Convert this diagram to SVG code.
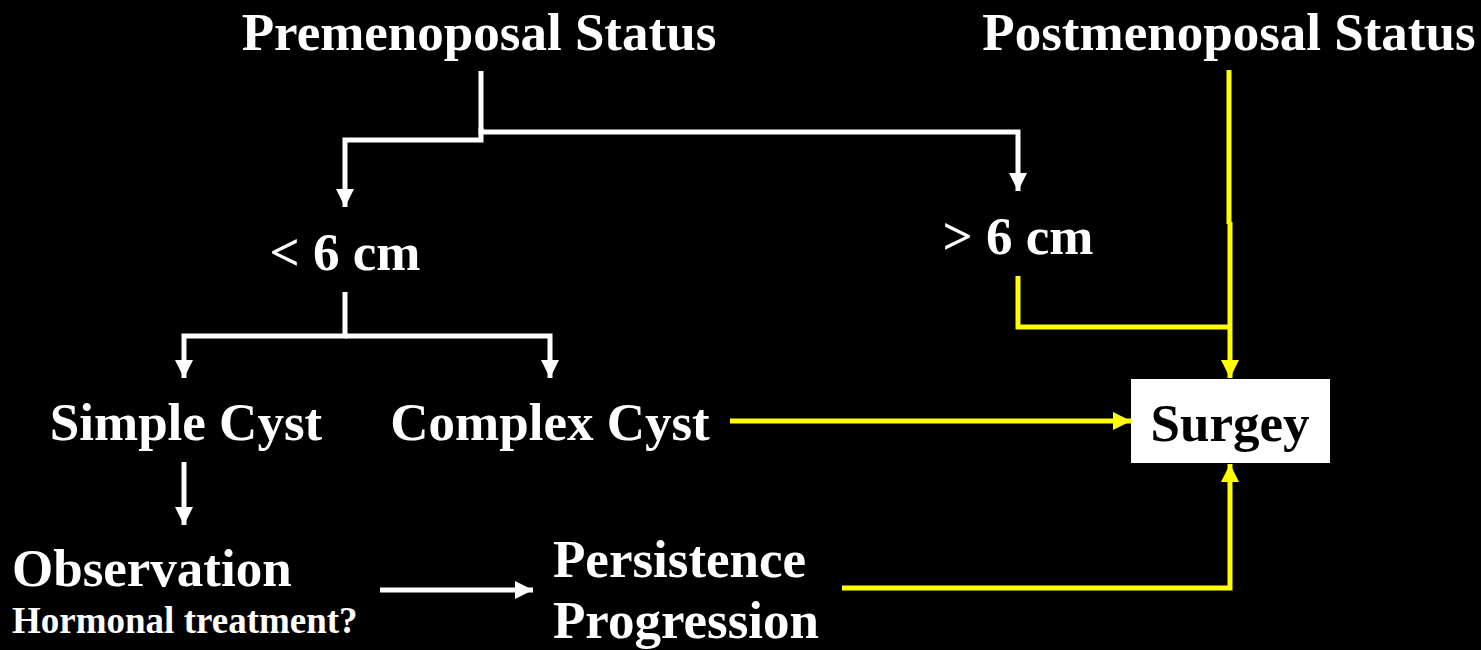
<svg xmlns="http://www.w3.org/2000/svg" width="1481" height="650" viewBox="0 0 1481 650">
<style>
.t{font-family:"Liberation Serif","Times New Roman",serif;font-weight:bold;fill:#fff;text-anchor:middle}
.l{text-anchor:start}
.w{stroke:#fff;stroke-width:5;fill:none}
.y{stroke:#ff0;stroke-width:5;fill:none}
</style>
<defs>
<marker id="aw" markerUnits="userSpaceOnUse" markerWidth="20" markerHeight="20" refX="18" refY="9" orient="auto"><path d="M0,0 L18,9 L0,18 Z" fill="#fff"/></marker>
<marker id="ay" markerUnits="userSpaceOnUse" markerWidth="20" markerHeight="20" refX="18" refY="9" orient="auto"><path d="M0,0 L18,9 L0,18 Z" fill="#ff0"/></marker>
</defs>
<rect width="1481" height="650" fill="#000"/>
<g id="connectors">
<path class="w" d="M481,71 V132 H1018 V191" marker-end="url(#aw)"/>
<path class="w" d="M481,128 V140 H345 V207" marker-end="url(#aw)"/>
<path class="w" d="M345,292 V336 H184 V378" marker-end="url(#aw)"/>
<path class="w" d="M345,336 H550 V378" marker-end="url(#aw)"/>
<path class="w" d="M184,462 V525" marker-end="url(#aw)"/>
<path class="w" d="M380,590 H533" marker-end="url(#aw)"/>
<path class="y" d="M1229,70 V224 M1230,222 V378" marker-end="url(#ay)"/>
<path class="y" d="M1018,276 V327 H1230"/>
<path class="y" d="M730,421 H1131" marker-end="url(#ay)"/>
<path class="y" d="M842,588 H1230 V464" marker-end="url(#ay)"/>
</g>
<g id="premenopausal"><text class="t" x="479" y="50" font-size="53">Premenoposal Status</text></g>
<g id="postmenopausal"><text class="t" x="1229" y="50" font-size="53">Postmenoposal Status</text></g>
<g id="lt6"><text class="t" x="345" y="270" font-size="53">&lt; 6 cm</text></g>
<g id="gt6"><text class="t" x="1018" y="254" font-size="53">&gt; 6 cm</text></g>
<g id="simple"><text class="t" x="186" y="440" font-size="53">Simple Cyst</text></g>
<g id="complex"><text class="t" x="550" y="440" font-size="53">Complex Cyst</text></g>
<g id="surgery"><rect x="1131" y="379" width="199" height="84" fill="#fff"/><text class="t" x="1230" y="441" font-size="53" style="fill:#000">Surgey</text></g>
<g id="observation"><text class="t l" x="12" y="586" font-size="53">Observation</text><text class="t l" x="12" y="633" font-size="37">Hormonal treatment?</text></g>
<g id="persistence"><text class="t l" x="553" y="577" font-size="53">Persistence</text><text class="t l" x="553" y="638" font-size="53">Progression</text></g>
</svg>
